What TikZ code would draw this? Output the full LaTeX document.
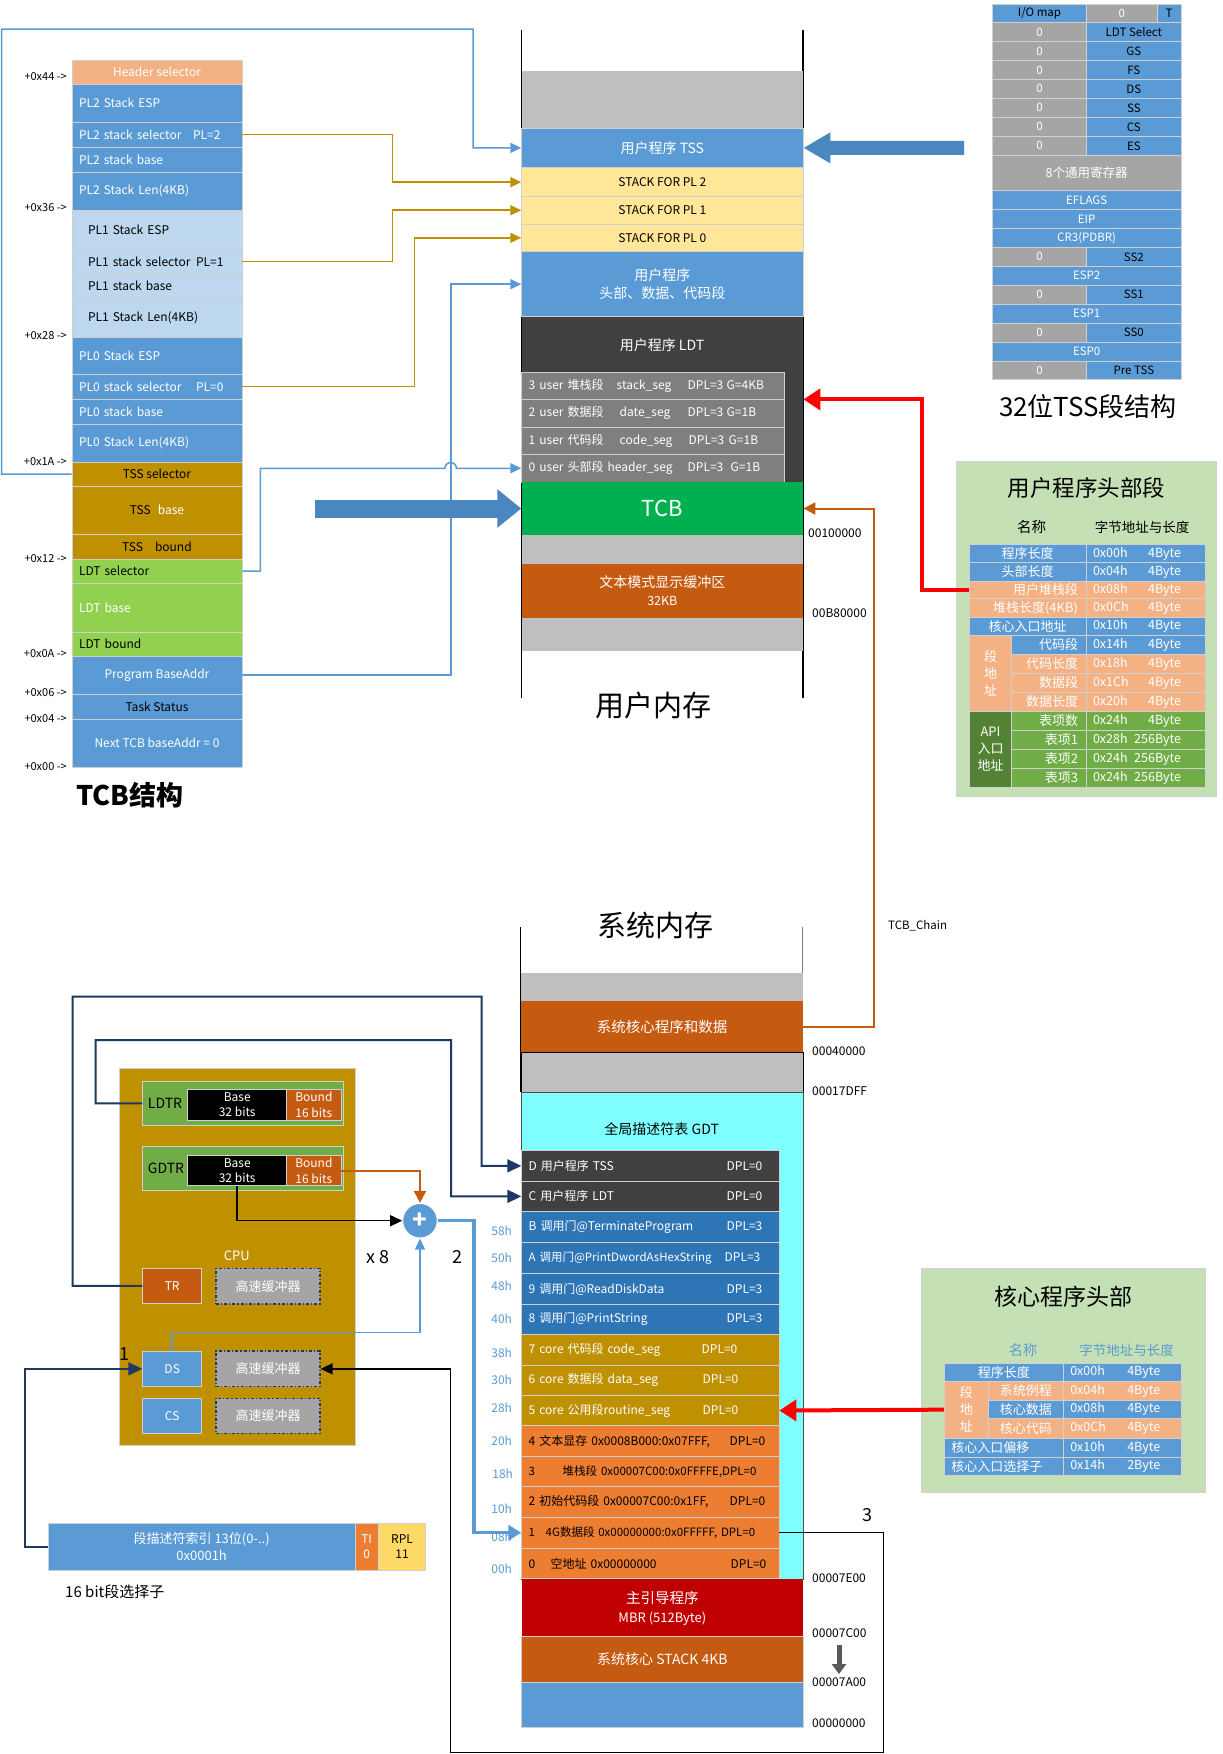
\documentclass[tikz,border=0pt]{standalone}
\usepackage{fontspec}
\setmainfont{Noto Sans CJK SC}
\usetikzlibrary{arrows.meta}
\definecolor{blueA}{HTML}{5B9BD5}
\definecolor{blueLt}{HTML}{BDD7EE}
\definecolor{blueD}{HTML}{2E75B6}
\definecolor{blueBig}{HTML}{4A86BF}
\definecolor{orangeLt}{HTML}{F4B183}
\definecolor{orangeM}{HTML}{ED7D31}
\definecolor{rust}{HTML}{C55A11}
\definecolor{gold}{HTML}{BF9000}
\definecolor{greenL}{HTML}{92D050}
\definecolor{greenM}{HTML}{70AD47}
\definecolor{greenD}{HTML}{548235}
\definecolor{greenBg}{HTML}{C5E0B4}
\definecolor{tcbGreen}{HTML}{00B050}
\definecolor{grayM}{HTML}{BFBFBF}
\definecolor{grayC}{HTML}{A5A5A5}
\definecolor{grayR}{HTML}{7F7F7F}
\definecolor{darkC}{HTML}{404040}
\definecolor{yellowL}{HTML}{FFE699}
\definecolor{yellowS}{HTML}{FFD966}
\definecolor{navy}{HTML}{1F3864}
\definecolor{cyanG}{HTML}{7FFFFF}
\definecolor{redD}{HTML}{C00000}
\definecolor{arrowGray}{HTML}{595959}
\definecolor{sepGray}{HTML}{D0D0D0}
\newcommand\fsz[1]{\fontsize{#1}{\fpeval{1.3*#1}}\selectfont}
\tikzstyle{memcell}=[draw=sepGray, line width=0.8pt, inner sep=0pt, align=center, text=white, font=\fsz{12}]
\tikzstyle{tx}=[inner sep=0pt, font=\fsz{11}]
\tikzstyle{cache}=[fill=grayC, draw=navy, line width=1.2pt, dash dot]
\tikzstyle{gline}=[draw=gold, line width=1.7pt, -{Triangle[length=11pt,width=10pt]}]
\tikzstyle{bline}=[draw=blueA, line width=1.5pt, -{Triangle[length=11pt,width=10pt]}]
\tikzstyle{nline}=[draw=navy, line width=2pt, -{Triangle[length=14pt,width=13pt]}]
\tikzstyle{rline}=[draw=red, line width=4pt, -{Triangle[length=17pt,width=21pt]}]
\tikzstyle{oline}=[draw=rust, line width=2pt, -{Triangle[length=12pt,width=12pt]}]
\tikzstyle{kline}=[draw=black, line width=1.5pt, -{Triangle[length=12pt,width=11pt]}]
\tikzstyle{tbline}=[draw=blueA, line width=3.5pt, -{Triangle[length=13pt,width=15pt]}]
\tikzstyle{bigarrowL}=[draw=blueBig, line width=18pt, -{Triangle[length=24pt,width=37pt]}]
\tikzstyle{bigarrowR}=[draw=blueBig, line width=14pt, -{Triangle[length=27pt,width=29pt]}]
\newcommand\blk[7][]{\node[memcell,minimum width={(#5-#3)*1pt},minimum height={(#6-#4)*1pt},#1] (#2) at ({(#3+#5)/2},{(#4+#6)/2}) {#7};}
\newcommand\lblk[7][]{\node[memcell,align=left,inner xsep=7pt,text width={(#5-#3-14)*1pt},minimum height={(#6-#4)*1pt},#1] (#2) at ({(#3+#5)/2},{(#4+#6)/2}) {#7};}
\newcommand\rblk[7][]{\node[memcell,align=right,inner xsep=8pt,text width={(#5-#3-16)*1pt},minimum height={(#6-#4)*1pt},#1] (#2) at ({(#3+#5)/2},{(#4+#6)/2}) {#7};}

\begin{document}
\begin{tikzpicture}[x=1pt,y=-1pt]
\useasboundingbox[fill=white] (0,0) rectangle (1223,1754);

% TCB结构
\blk[fill=orangeLt]{hsel}{72}{60}{242}{84}{Header selector}
\lblk[fill=blueA]{plesp2}{72}{84}{242}{122}{PL2 Stack ESP}
\lblk[fill=blueA]{plsel2}{72}{122}{242}{147}{\makebox[114pt][l]{PL2 stack selector}PL=2}
\lblk[fill=blueA]{plbase2}{72}{147}{242}{172}{PL2 stack base}
\lblk[fill=blueA]{pllen2}{72}{172}{242}{210}{PL2 Stack Len(4KB)}
\lblk[fill=blueLt,text=black]{plesp1}{72}{210}{242}{249}{\hspace*{9pt}PL1 Stack ESP}
\lblk[fill=blueLt,text=black]{plsel1}{72}{249}{242}{274}{\hspace*{9pt}\makebox[108pt][l]{PL1 stack selector}PL=1}
\lblk[fill=blueLt,text=black]{plbase1}{72}{274}{242}{298}{\hspace*{9pt}PL1 stack base}
\lblk[fill=blueLt,text=black]{pllen1}{72}{298}{242}{337}{\hspace*{9pt}PL1 Stack Len(4KB)}
\lblk[fill=blueA]{plesp0}{72}{337}{242}{374}{PL0 Stack ESP}
\lblk[fill=blueA]{plsel0}{72}{374}{242}{399}{\makebox[117pt][l]{PL0 stack selector}PL=0}
\lblk[fill=blueA]{plbase0}{72}{399}{242}{424}{PL0 stack base}
\lblk[fill=blueA]{pllen0}{72}{424}{242}{462}{PL0 Stack Len(4KB)}
\blk[fill=gold,text=black]{tsel}{72}{462}{242}{486}{TSS selector}
\blk[fill=gold]{tbase}{72}{486}{242}{534}{\textcolor{black}{TSS}\hspace{7pt}base}
\blk[fill=gold,text=black]{tbound}{72}{534}{242}{559}{TSS\hspace{12pt}bound}
\lblk[fill=greenL,text=black]{ldtsel}{72}{559}{242}{583}{LDT selector}
\lblk[fill=greenL]{ldtbase}{72}{583}{242}{632}{LDT base}
\lblk[fill=greenL,text=black]{ldtbnd}{72}{632}{242}{656}{LDT bound}
\blk[fill=blueA]{pbase}{72}{656}{242}{694}{Program BaseAddr}
\blk[fill=blueA,text=black]{tstat}{72}{694}{242}{719}{Task Status}
\blk[fill=blueA]{nexttcb}{72}{719}{242}{767}{Next TCB baseAddr = 0}
\node[tx,anchor=east] (o44) at (67,77) {+0x44 ->};
\node[tx,anchor=east] (o36) at (67,208) {+0x36 ->};
\node[tx,anchor=east] (o28) at (67,336) {+0x28 ->};
\node[tx,anchor=east] (o1A) at (67,462) {+0x1A ->};
\node[tx,anchor=east] (o12) at (67,559) {+0x12 ->};
\node[tx,anchor=east] (o0A) at (67,654) {+0x0A ->};
\node[tx,anchor=east] (o06) at (67,693) {+0x06 ->};
\node[tx,anchor=east] (o04) at (67,719) {+0x04 ->};
\node[tx,anchor=east] (o00) at (67,767) {+0x00 ->};
\node[tx,anchor=west,font=\fsz{27}\bfseries] (tcbt) at (76,795) {TCB结构};

% 用户内存
\draw[black,line width=1.2pt] (521.7,30) -- (521.7,698);
\draw[black,line width=1.2pt] (803,30) -- (803,698);
\blk[fill=grayM,draw=none]{ugray1}{521.7}{71}{803}{128}{}
\blk[fill=blueA,font=\fsz{14}]{utss}{521.7}{128}{803}{167.8}{用户程序 TSS}
\blk[fill=yellowL,text=black]{ustk2}{521.7}{167.8}{803}{196.5}{STACK FOR PL 2}
\blk[fill=yellowL,text=black]{ustk1}{521.7}{196.5}{803}{224}{STACK FOR PL 1}
\blk[fill=yellowL,text=black]{ustk0}{521.7}{224}{803}{251.6}{STACK FOR PL 0}
\blk[fill=blueA,font=\fsz{14}]{uprog}{521.7}{251.6}{803}{316.8}{用户程序\\头部、数据、代码段}
\blk[fill=darkC,draw=none]{uldt}{521.7}{316.8}{803}{482}{}
\node[tx,text=white,font=\fsz{14}] (uldtt) at (662,345) {用户程序 LDT};
\lblk[fill=grayR]{ldt3}{521.7}{372.4}{784}{399.4}{\makebox[88pt][l]{3 user 堆栈段}\makebox[71pt][l]{stack\_seg}\makebox[39pt][l]{DPL=3}G=4KB}
\lblk[fill=grayR]{ldt2}{521.7}{399.4}{784}{427}{\makebox[91pt][l]{2 user 数据段}\makebox[68pt][l]{date\_seg}\makebox[39pt][l]{DPL=3}G=1B}
\lblk[fill=grayR]{ldt1}{521.7}{427}{784}{454.5}{\makebox[91pt][l]{1 user 代码段}\makebox[69pt][l]{code\_seg}\makebox[40pt][l]{DPL=3}G=1B}
\lblk[fill=grayR]{ldt0}{521.7}{454.5}{784}{482}{\makebox[79pt][l]{0 user 头部段}\makebox[80pt][l]{header\_seg}\makebox[43pt][l]{DPL=3}G=1B}
\blk[fill=tcbGreen,draw=none,font=\fsz{22}]{utcb}{521.7}{482}{803}{535}{TCB}
\blk[fill=grayM,draw=none]{ugray2}{521.7}{535}{803}{564}{}
\blk[fill=rust,draw=none,font=\fsz{14}]{uvbuf}{521.7}{564}{803}{617.5}{文本模式显示缓冲区\\{\fsz{12.5}32KB}}
\blk[fill=grayM,draw=none]{ugray3}{521.7}{617.5}{803}{651}{}
\node[tx,anchor=west,font=\fsz{12}] (a100) at (808,533) {00100000};
\node[tx,anchor=west,font=\fsz{12}] (ab80) at (812,613) {00B80000};
\node[font=\fsz{29}] (umem) at (653,705) {用户内存};

% 32位TSS段结构
\blk[fill=blueA,text=black,font=\fsz{11.5}]{iomap}{992.3}{4}{1086.7}{22.7}{I/O map}
\blk[fill=grayC,font=\fsz{11.5}]{iozero}{1086.7}{4}{1157}{22.7}{0}
\blk[fill=blueA,text=black,font=\fsz{11.5}]{tbit}{1157}{4}{1181}{22.7}{T}
\blk[fill=grayC,font=\fsz{11.5}]{z1}{992.3}{22.7}{1086.7}{41.7}{0}
\blk[fill=blueA,text=black,font=\fsz{11.5}]{rldt}{1086.7}{22.7}{1181}{41.7}{LDT Select}
\blk[fill=grayC,font=\fsz{11.5}]{z2}{992.3}{41.7}{1086.7}{60.7}{0}
\blk[fill=blueA,text=black,font=\fsz{11.5}]{rgs}{1086.7}{41.7}{1181}{60.7}{GS}
\blk[fill=grayC,font=\fsz{11.5}]{z3}{992.3}{60.7}{1086.7}{79.3}{0}
\blk[fill=blueA,text=black,font=\fsz{11.5}]{rfs}{1086.7}{60.7}{1181}{79.3}{FS}
\blk[fill=grayC,font=\fsz{11.5}]{z4}{992.3}{79.3}{1086.7}{98.3}{0}
\blk[fill=blueA,text=black,font=\fsz{11.5}]{rds}{1086.7}{79.3}{1181}{98.3}{DS}
\blk[fill=grayC,font=\fsz{11.5}]{z5}{992.3}{98.3}{1086.7}{117.3}{0}
\blk[fill=blueA,text=black,font=\fsz{11.5}]{rss}{1086.7}{98.3}{1181}{117.3}{SS}
\blk[fill=grayC,font=\fsz{11.5}]{z6}{992.3}{117.3}{1086.7}{136.3}{0}
\blk[fill=blueA,text=black,font=\fsz{11.5}]{rcs}{1086.7}{117.3}{1181}{136.3}{CS}
\blk[fill=grayC,font=\fsz{11.5}]{z7}{992.3}{136.3}{1086.7}{155.3}{0}
\blk[fill=blueA,text=black,font=\fsz{11.5}]{res}{1086.7}{136.3}{1181}{155.3}{ES}
\blk[fill=grayC,font=\fsz{12.5}]{rgen}{992.3}{155.3}{1181}{190.7}{8个通用寄存器}
\blk[fill=blueA,font=\fsz{11.5}]{reflags}{992.3}{190.7}{1181}{209.7}{EFLAGS}
\blk[fill=blueA,font=\fsz{11.5}]{reip}{992.3}{209.7}{1181}{228.7}{EIP}
\blk[fill=blueA,font=\fsz{11.5}]{rcr3}{992.3}{228.7}{1181}{247.7}{CR3(PDBR)}
\blk[fill=grayC,font=\fsz{11.5}]{z8}{992.3}{247.7}{1086.7}{266}{0}
\blk[fill=blueA,text=black,font=\fsz{11.5}]{rss2}{1086.7}{247.7}{1181}{266}{SS2}
\blk[fill=blueA,font=\fsz{11.5}]{resp2}{992.3}{266}{1181}{285}{ESP2}
\blk[fill=grayC,font=\fsz{11.5}]{z9}{992.3}{285}{1086.7}{304}{0}
\blk[fill=blueA,text=black,font=\fsz{11.5}]{rss1}{1086.7}{285}{1181}{304}{SS1}
\blk[fill=blueA,font=\fsz{11.5}]{resp1}{992.3}{304}{1181}{323}{ESP1}
\blk[fill=grayC,font=\fsz{11.5}]{z10}{992.3}{323}{1086.7}{342}{0}
\blk[fill=blueA,text=black,font=\fsz{11.5}]{rss0}{1086.7}{323}{1181}{342}{SS0}
\blk[fill=blueA,font=\fsz{11.5}]{resp0}{992.3}{342}{1181}{361}{ESP0}
\blk[fill=grayC,font=\fsz{11.5}]{z11}{992.3}{361}{1086.7}{379.7}{0}
\blk[fill=blueA,text=black,font=\fsz{11.5}]{rpre}{1086.7}{361}{1181}{379.7}{Pre TSS}
\node[font=\fsz{26}] (tsst) at (1088,406.7) {32位TSS段结构};

% 用户程序头部段
\blk[fill=greenBg,draw=sepGray]{uhbox}{956.7}{461.7}{1216.7}{796.7}{}
\node[font=\fsz{22.5}] (uht) at (1086.7,488) {用户程序头部段};
\node[font=\fsz{14.5}] (uhn) at (1031.7,527) {名称};
\node[font=\fsz{13.5}] (uha) at (1142,527) {字节地址与长度};
\blk[fill=blueA,font=\fsz{13}]{uh1}{969.3}{544.3}{1086}{562.7}{程序长度}
\blk[fill=blueA,font=\fsz{13}]{uh2}{969.3}{562.7}{1086}{581.3}{头部长度}
\rblk[fill=orangeLt,font=\fsz{13}]{uh3}{969.3}{581.3}{1086}{598.7}{用户堆栈段}
\rblk[fill=orangeLt,font=\fsz{13}]{uh4}{969.3}{598.7}{1086}{617}{堆栈长度(4KB)}
\blk[fill=blueA,font=\fsz{13}]{uh5}{969.3}{617}{1086}{635.7}{核心入口地址}
\blk[fill=orangeLt,font=\fsz{13}]{ug1}{969.3}{635.7}{1011.7}{711}{段\\地\\址}
\rblk[fill=blueA,font=\fsz{13}]{uh6}{1011.7}{635.7}{1086}{654}{代码段}
\rblk[fill=orangeLt,font=\fsz{13}]{uh7}{1011.7}{654}{1086}{673}{代码长度}
\rblk[fill=orangeLt,font=\fsz{13}]{uh8}{1011.7}{673}{1086}{692}{数据段}
\rblk[fill=orangeLt,font=\fsz{13}]{uh9}{1011.7}{692}{1086}{711}{数据长度}
\blk[fill=greenD,font=\fsz{13}]{ug2}{969.3}{711}{1011.7}{787}{API\\入口\\地址}
\rblk[fill=greenM,font=\fsz{13}]{uh10}{1011.7}{711}{1086}{730}{表项数}
\rblk[fill=greenM,font=\fsz{13}]{uh11}{1011.7}{730}{1086}{749}{表项1}
\rblk[fill=greenM,font=\fsz{13}]{uh12}{1011.7}{749}{1086}{768}{表项2}
\rblk[fill=greenM,font=\fsz{13}]{uh13}{1011.7}{768}{1086}{787}{表项3}
\lblk[fill=blueA,font=\fsz{12.5}]{uv1}{1086}{544.3}{1205.7}{562.7}{\makebox[46pt][l]{0x00h}\makebox[42pt][r]{4Byte}}
\lblk[fill=blueA,font=\fsz{12.5}]{uv2}{1086}{562.7}{1205.7}{581.3}{\makebox[46pt][l]{0x04h}\makebox[42pt][r]{4Byte}}
\lblk[fill=orangeLt,font=\fsz{12.5}]{uv3}{1086}{581.3}{1205.7}{598.7}{\makebox[46pt][l]{0x08h}\makebox[42pt][r]{4Byte}}
\lblk[fill=orangeLt,font=\fsz{12.5}]{uv4}{1086}{598.7}{1205.7}{617}{\makebox[46pt][l]{0x0Ch}\makebox[42pt][r]{4Byte}}
\lblk[fill=blueA,font=\fsz{12.5}]{uv5}{1086}{617}{1205.7}{635.7}{\makebox[46pt][l]{0x10h}\makebox[42pt][r]{4Byte}}
\lblk[fill=blueA,font=\fsz{12.5}]{uv6}{1086}{635.7}{1205.7}{654}{\makebox[46pt][l]{0x14h}\makebox[42pt][r]{4Byte}}
\lblk[fill=orangeLt,font=\fsz{12.5}]{uv7}{1086}{654}{1205.7}{673}{\makebox[46pt][l]{0x18h}\makebox[42pt][r]{4Byte}}
\lblk[fill=orangeLt,font=\fsz{12.5}]{uv8}{1086}{673}{1205.7}{692}{\makebox[46pt][l]{0x1Ch}\makebox[42pt][r]{4Byte}}
\lblk[fill=orangeLt,font=\fsz{12.5}]{uv9}{1086}{692}{1205.7}{711}{\makebox[46pt][l]{0x20h}\makebox[42pt][r]{4Byte}}
\lblk[fill=greenM,font=\fsz{12.5}]{uv10}{1086}{711}{1205.7}{730}{\makebox[46pt][l]{0x24h}\makebox[42pt][r]{4Byte}}
\lblk[fill=greenM,font=\fsz{12.5}]{uv11}{1086}{730}{1205.7}{749}{\makebox[46pt][l]{0x28h}\makebox[42pt][r]{256Byte}}
\lblk[fill=greenM,font=\fsz{12.5}]{uv12}{1086}{749}{1205.7}{768}{\makebox[46pt][l]{0x24h}\makebox[42pt][r]{256Byte}}
\lblk[fill=greenM,font=\fsz{12.5}]{uv13}{1086}{768}{1205.7}{787}{\makebox[46pt][l]{0x24h}\makebox[42pt][r]{256Byte}}

% 系统内存
\node[font=\fsz{29}] (smem) at (655,925) {系统内存};
\draw[black,line width=1.2pt] (520.7,927) -- (520.7,1092);
\draw[gray,line width=1.2pt] (802.7,927) -- (802.7,1092);
\blk[fill=grayM,draw=none]{sgray1}{521}{973.3}{803}{1000.7}{}
\blk[fill=rust,draw=none,font=\fsz{14.5}]{ksys}{521}{1000.7}{803}{1052.7}{系统核心程序和数据}
\blk[fill=grayM,draw=black]{sgray2}{521}{1052.7}{803}{1092}{}
\blk[fill=cyanG,draw=black!70]{gdt}{521}{1092}{803}{1579.3}{}
\node[tx,font=\fsz{14}] (gdtt) at (661.7,1129.3) {全局描述符表 GDT};
\lblk[fill=darkC]{gD}{521.7}{1150.7}{779}{1181}{\makebox[198pt][l]{D 用户程序 TSS}DPL=0}
\lblk[fill=darkC]{gC}{521.7}{1181}{779}{1211.7}{\makebox[198pt][l]{C 用户程序 LDT}DPL=0}
\lblk[fill=blueD]{gB}{521.7}{1211.7}{779}{1242.7}{\makebox[198pt][l]{B 调用门@TerminateProgram}DPL=3}
\lblk[fill=blueD,font=\fsz{11.5}]{gA}{521.7}{1242.7}{779}{1273.7}{\mbox{\makebox[196pt][l]{A 调用门@PrintDwordAsHexString}\fsz{12}DPL=3}}
\lblk[fill=blueD]{g9}{521.7}{1273.7}{779}{1304.3}{\makebox[198pt][l]{9 调用门@ReadDiskData}DPL=3}
\lblk[fill=blueD]{g8}{521.7}{1304.3}{779}{1334.3}{\makebox[198pt][l]{8 调用门@PrintString}DPL=3}
\lblk[fill=gold]{g7}{521.7}{1334.3}{779}{1365}{\makebox[173pt][l]{7 core 代码段 code\_seg}DPL=0}
\lblk[fill=gold]{g6}{521.7}{1365}{779}{1395.3}{\makebox[174pt][l]{6 core 数据段 data\_seg}DPL=0}
\lblk[fill=gold]{g5}{521.7}{1395.3}{779}{1425.7}{\makebox[174pt][l]{5 core 公用段routine\_seg}DPL=0}
\lblk[fill=orangeM,text=black]{g4}{521.7}{1425.7}{779}{1456.7}{\makebox[201pt][l]{4 文本显存 0x0008B000:0x07FFF,}DPL=0}
\lblk[fill=orangeM,text=black,font=\fsz{11.5}]{g3}{521.7}{1456.7}{779}{1486.7}{\mbox{\makebox[34pt][l]{3}堆栈段 0x00007C00:0x0FFFFE,DPL=0}}
\lblk[fill=orangeM,text=black]{g2}{521.7}{1486.7}{779}{1517.3}{\makebox[201pt][l]{2 初始代码段 0x00007C00:0x1FF,}DPL=0}
\lblk[fill=orangeM,text=black,font=\fsz{11.5}]{g1}{521.7}{1517.3}{779}{1548}{\mbox{\makebox[17pt][l]{1}4G数据段 0x00000000:0x0FFFFF, DPL=0}}
\lblk[fill=orangeM,text=black]{g0}{521.7}{1548}{779}{1578.7}{\makebox[22pt][l]{0}\makebox[180pt][l]{空地址 0x00000000}DPL=0}
\node[tx,text=blueA,font=\fsz{12}] (h58) at (501.7,1230.7) {58h};
\node[tx,text=blueA,font=\fsz{12}] (h50) at (501.7,1258) {50h};
\node[tx,text=blueA,font=\fsz{12}] (h48) at (501.7,1286) {48h};
\node[tx,text=blueA,font=\fsz{12}] (h40) at (501.7,1319) {40h};
\node[tx,text=blueA,font=\fsz{12}] (h38) at (501.7,1352.7) {38h};
\node[tx,text=blueA,font=\fsz{12}] (h30) at (501.7,1380) {30h};
\node[tx,text=blueA,font=\fsz{12}] (h28) at (501.7,1407.7) {28h};
\node[tx,text=blueA,font=\fsz{12}] (h20) at (501.7,1441) {20h};
\node[tx,text=blueA,font=\fsz{12}] (h18) at (502.7,1474) {18h};
\node[tx,text=blueA,font=\fsz{12}] (h10) at (501.7,1509) {10h};
\node[tx,text=blueA,font=\fsz{12}] (h08) at (501.7,1536.7) {08h};
\node[tx,text=blueA,font=\fsz{12}] (h00) at (501.7,1569) {00h};
\blk[fill=redD,draw=none,font=\fsz{14.5}]{mbr}{521.7}{1579.3}{803}{1636.7}{主引导程序\\{\fsz{13}MBR (512Byte)}}
\blk[fill=rust,font=\fsz{14}]{kstk}{521.7}{1636.7}{803}{1682.3}{系统核心 STACK 4KB}
\blk[fill=blueA]{lowb}{521.7}{1682.3}{803}{1727.3}{}
\node[tx,anchor=west,font=\fsz{12}] (a40000) at (812,1051) {00040000};
\node[tx,anchor=west,font=\fsz{12}] (a17dff) at (812,1091) {00017DFF};
\node[tx,anchor=west,font=\fsz{12}] (a7e00) at (812,1577.7) {00007E00};
\node[tx,anchor=west,font=\fsz{12}] (a7c00) at (812,1632.7) {00007C00};
\node[tx,anchor=west,font=\fsz{12}] (a7a00) at (812,1681.7) {00007A00};
\node[tx,anchor=west,font=\fsz{12}] (a0) at (812,1722.7) {00000000};
\coordinate (dnA) at (839,1645);
\coordinate (dnB) at (839,1674);
\draw[draw=arrowGray,line width=5pt,-{Triangle[length=10pt,width=14pt]}] (dnA) -- (dnB);
\node[font=\fsz{18}] (lab3) at (867,1515) {3};
\node[tx,anchor=west,font=\fsz{11.5}] (chain) at (888,926) {TCB\_Chain};

% 核心程序头部
\blk[fill=greenBg,draw=sepGray]{chbox}{921}{1268.3}{1205}{1492.7}{}
\node[font=\fsz{23}] (cht) at (1063,1296.7) {核心程序头部};
\node[text=blueA,font=\fsz{14}] (chn) at (1023,1350) {名称};
\node[text=blueA,font=\fsz{13.5}] (cha) at (1126.7,1350) {字节地址与长度};
\blk[fill=blueA,font=\fsz{13}]{ch1}{944.3}{1363.3}{1063.3}{1381.3}{程序长度}
\blk[fill=orangeLt,font=\fsz{13}]{cg}{944.3}{1381.3}{988.3}{1438}{段\\地\\址}
\blk[fill=orangeLt,font=\fsz{13}]{ch2}{988.3}{1381.3}{1063.3}{1400}{系统例程}
\blk[fill=blueA,font=\fsz{13}]{ch3}{988.3}{1400}{1063.3}{1418.7}{核心数据}
\blk[fill=orangeLt,font=\fsz{13}]{ch4}{988.3}{1418.7}{1063.3}{1438}{核心代码}
\lblk[fill=blueA,font=\fsz{13}]{ch5}{944.3}{1438}{1063.3}{1457}{核心入口偏移}
\lblk[fill=blueA,font=\fsz{13}]{ch6}{944.3}{1457}{1063.3}{1475.7}{核心入口选择子}
\lblk[fill=blueA,font=\fsz{12.5}]{cv1}{1063.3}{1363.3}{1181}{1381.3}{\makebox[57pt][l]{0x00h}4Byte}
\lblk[fill=orangeLt,font=\fsz{12.5}]{cv2}{1063.3}{1381.3}{1181}{1400}{\makebox[57pt][l]{0x04h}4Byte}
\lblk[fill=blueA,font=\fsz{12.5}]{cv3}{1063.3}{1400}{1181}{1418.7}{\makebox[57pt][l]{0x08h}4Byte}
\lblk[fill=orangeLt,font=\fsz{12.5}]{cv4}{1063.3}{1418.7}{1181}{1438}{\makebox[57pt][l]{0x0Ch}4Byte}
\lblk[fill=blueA,font=\fsz{12.5}]{cv5}{1063.3}{1438}{1181}{1457}{\makebox[57pt][l]{0x10h}4Byte}
\lblk[fill=blueA,font=\fsz{12.5}]{cv6}{1063.3}{1457}{1181}{1475.7}{\makebox[57pt][l]{0x14h}2Byte}

% CPU
\blk[fill=gold,draw=sepGray]{cpu}{119.3}{1068.3}{355}{1445}{}
\blk[fill=greenM]{ldtr}{142.7}{1081.7}{343.3}{1125}{}
\node[tx,font=\fsz{14}] (ldtrt) at (165,1103.3) {LDTR};
\blk[fill=black,font=\fsz{12}]{lbase}{187.7}{1089.3}{286.7}{1120}{Base\\32 bits}
\blk[fill=rust,font=\fsz{12}]{lbound}{286.7}{1089.3}{341}{1120}{Bound\\16 bits}
\blk[fill=greenM]{gdtr}{142.7}{1146.7}{343.3}{1190.7}{}
\node[tx,font=\fsz{14}] (gdtrt) at (166,1168.7) {GDTR};
\blk[fill=black,font=\fsz{12}]{gbase}{187.7}{1155.3}{286.7}{1185.7}{Base\\32 bits}
\blk[fill=rust,font=\fsz{12}]{gbound}{286.7}{1155.3}{341}{1185.7}{Bound\\16 bits}
\node[circle,fill=blueA,draw=white,line width=1pt,minimum size=34.6pt,inner sep=0pt,text=white,font=\fsz{24}\bfseries] (plus) at (420,1220.7) {+};
\node[font=\fsz{18}] (x8) at (378,1256.7) {x 8};
\node[font=\fsz{18}] (lab2) at (457.7,1256.7) {2};
\node[text=white,font=\fsz{13}] (cput) at (236.7,1256) {CPU};
\blk[fill=rust]{tr}{142.7}{1268.3}{201.7}{1303.3}{TR}
\blk[cache,font=\fsz{13}]{cache1}{216}{1268.3}{320}{1304}{高速缓冲器}
\blk[fill=blueA]{ds}{142.7}{1351}{201.7}{1386.7}{DS}
\blk[cache,font=\fsz{13}]{cache2}{216}{1351}{320}{1386.7}{高速缓冲器}
\blk[fill=blueA]{cs}{142.7}{1398.3}{201.7}{1433.3}{CS}
\blk[cache,font=\fsz{13}]{cache3}{216}{1398.3}{320}{1433.3}{高速缓冲器}
\node[font=\fsz{18}] (lab1) at (124,1354) {1};

% 16 bit段选择子
\blk[fill=blueA,font=\fsz{13}]{sel}{48.3}{1523.3}{355}{1570}{段描述符索引 13位(0-..)\\0x0001h}
\blk[fill=orangeM,font=\fsz{12}]{ti}{355}{1523.3}{378.3}{1570}{TI\\0}
\blk[fill=yellowS,text=black,font=\fsz{12}]{rpl}{378.3}{1523.3}{425.7}{1570}{RPL\\11}
\node[anchor=west,font=\fsz{15}] (selt) at (61.7,1591.7) {16 bit段选择子};

% connectors
\draw[bline] (tsel.west) -| (1.5,29) -| (473,147.8) -- (utss.west);
\draw[gline] (plsel2.east) -- ++(150,0) |- (ustk2.west);
\draw[gline] (plsel1.east) -- ++(150,0) |- (ustk1.west);
\draw[gline] (plsel0.east) -- ++(172,0) |- (ustk0.west);
\draw[bline] (pbase.east) -- ++(208.7,0) |- (uprog.west);
\draw[bline] (ldtsel.east) -- ++(18,0) |- (445,468.25) arc[start angle=180,end angle=360,radius=5.7] -- (ldt0.west);
\coordinate (bigLs) at (315,508.5);
\draw[bigarrowL] (bigLs) -- (utcb.west);
\coordinate (bigRs) at (964,147.8);
\draw[bigarrowR] (bigRs) -- (utss.east);
\draw[rline] (uh3.west) -- ++(-47.3,0) |- (uldt.east);
\draw[oline] (ksys.east) -- ++(71,0) |- (utcb.east);
\draw[rline] (cg.west) -- (g5.east);
\draw[oline] (gbound.east) -| (plus.north);
\draw[kline] (gbase.south) |- (plus.west);
\draw[bline] (ds.north) -- ++(0,-18.3) -| (plus.south);
\draw[tbline] (plus.east) -- ++(36,0) |- (g1.west);
\draw[nline] (tr.west) -| (72.7,996.7) -| (481.7,1165.85) -- (gD.west);
\draw[nline] (ldtr.west) -| (95.7,1040) -| (451,1196.35) -- (gC.west);
\draw[nline] (sel.west) -- ++(-23.3,0) |- (ds.west);
\draw[kline] (g1.east) -- ++(104.3,0) |- (450.7,1752.3) |- (cache2.east);
\end{tikzpicture}
\end{document}
